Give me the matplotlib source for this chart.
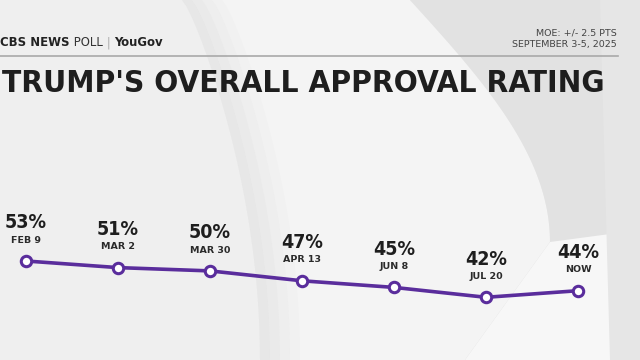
import numpy as np
import matplotlib
matplotlib.use("Agg")
import matplotlib.pyplot as plt

# poll values read from the graphic
dates = ["FEB 9", "MAR 2", "MAR 30", "APR 13", "JUN 8", "JUL 20", "NOW"]
approval = [53, 51, 50, 47, 45, 42, 44]

title = "TRUMP'S OVERALL APPROVAL RATING"
moe_text = "MOE: +/- 2.5 PTS"
field_dates = "SEPTEMBER 3-5, 2025"

purple = "#5a2d9c"
ink = "#1e1e1e"

fig = plt.figure(figsize=(6.4, 3.6), dpi=100)
fig.patch.set_facecolor("#ebebeb")

# background decoration, pixel coords
bg = fig.add_axes([0, 0, 1, 1], zorder=0)
bg.set_xlim(0, 640)
bg.set_ylim(360, 0)
bg.axis("off")
t = np.linspace(0, 1, 60)
lx = 182 + 78 * np.sin(t * np.pi / 2) ** 0.8
ly = 360 * t
rx1 = 410 + 140 * np.sin(t * np.pi / 2)
ry1 = 242 * t
bg.fill_betweenx(ly, 0, lx, color="#efefef", lw=0)
bg.fill(np.r_[lx, [465], rx1[::-1]], np.r_[ly, [360], ry1[::-1]],
        color="#f4f4f4", lw=0)
# soft shadow along the crescent's left edge
for k, a in enumerate([0.35, 0.25, 0.15, 0.08]):
    bg.fill(np.r_[lx + 10 * k, lx[::-1] + 10 * (k + 1)], np.r_[ly, ly[::-1]],
            color="#cfcfcf", lw=0, alpha=a)
bg.fill(np.r_[rx1, [465, 640, 640, 590]], np.r_[ry1, [360, 360, 0, 0]],
        color="#e2e2e2", lw=0)
bg.fill([550, 465, 610, 640, 640], [242, 360, 360, 300, 230], color="#f7f7f7", lw=0)
bg.fill([600, 640, 640, 610], [0, 0, 360, 360], color="#e6e6e6", lw=0)

# chart axes mapped so index/percent land on the right pixels
ax = fig.add_axes([0, 0, 1, 1], zorder=1)
ax.patch.set_alpha(0)
ax.set_xlim(-26 / 92, (640 - 26) / 92)
ax.set_ylim(53 - 99 / 3.3, 53 + 261 / 3.3)
ax.axis("off")

x = np.arange(len(approval))
ax.plot(x, approval, color=purple, lw=2.6, solid_capstyle="round", zorder=2)
ax.plot(x, approval, "o", ms=7.5, mfc="white", mec=purple, mew=2.2, zorder=3)

for xi, v, d in zip(x, approval, dates):
    ax.annotate(f"{v}%", (xi, v), xytext=(0, 27.5), textcoords="offset points",
                ha="center", va="center", fontsize=14, fontweight="bold",
                fontstretch="condensed", color=ink)
    ax.annotate(d, (xi, v), xytext=(0, 15), textcoords="offset points",
                ha="center", va="center", fontsize=6.8, fontweight="bold",
                color="#2a2a2a")

renderer = fig.canvas.get_renderer()

# title, sized to span the same width as the reference
tt = fig.text(2 / 640, 1 - 83 / 360, title, fontsize=20, fontweight="bold",
              fontstretch="condensed", color=ink, ha="left", va="center")
w = tt.get_window_extent(renderer).width
tt.set_fontsize(20 * 601 / w)

fig.lines.append(plt.Line2D([0, 618 / 640], [1 - 55.5 / 360] * 2,
                            transform=fig.transFigure, color="#a9a9a9", lw=1.2))

pieces = [("CBS NEWS", "bold", "#222222"), (" POLL", "normal", "#333333"),
          (" | ", "light", "#b0b0b0"), ("YouGov", "bold", "#222222")]
xpos = 0.5 / 640
for txt, wt, col in pieces:
    tt = fig.text(xpos, 1 - 43 / 360, txt, fontsize=9.4, fontweight=wt, color=col,
                  ha="left", va="center", fontstretch="condensed")
    bb = tt.get_window_extent(renderer)
    xpos += bb.width / 640

fig.text(617 / 640, 1 - 33 / 360, moe_text, fontsize=6.8, color="#444444",
         ha="right", va="center")
fig.text(617 / 640, 1 - 45 / 360, field_dates, fontsize=6.8, color="#444444",
         ha="right", va="center")

fig.savefig("out.png", dpi=100, facecolor=fig.get_facecolor())
